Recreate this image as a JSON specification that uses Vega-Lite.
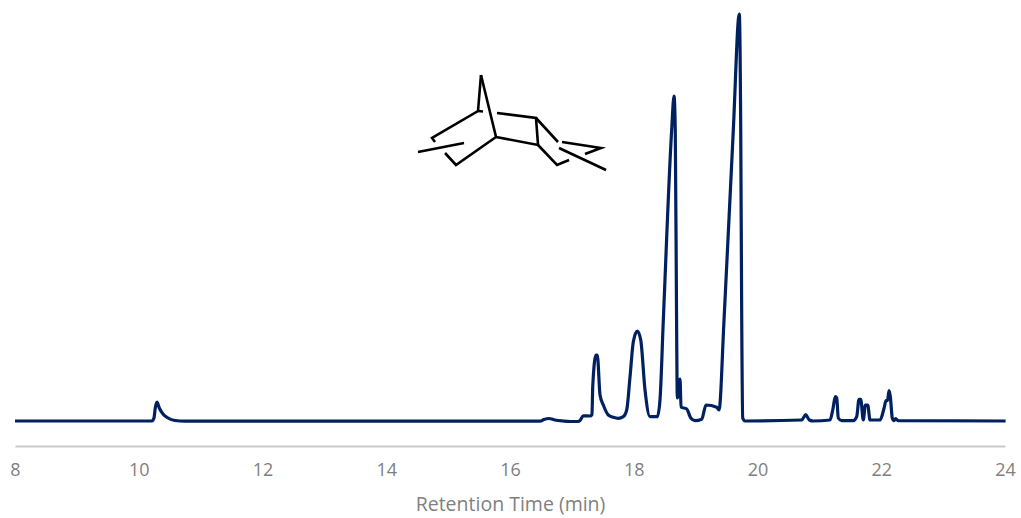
{"$schema":"https://vega.github.io/schema/vega-lite/v6.json","width":990,"height":446,"autosize":"none","padding":{"left":15,"right":16,"top":0,"bottom":72},"background":"white","config":{"view":{"stroke":null}},
"datasets":{"trace":[{"t":8,"v":0.5},{"t":10.214,"v":0.5},{"t":10.246,"v":3.5},{"t":10.267,"v":13.5},{"t":10.295,"v":19.5},{"t":10.332,"v":13.5},{"t":10.392,"v":7.5},{"t":10.473,"v":3.5},{"t":10.586,"v":1},{"t":10.747,"v":0.3},{"t":16.485,"v":0.3},{"t":16.549,"v":2},{"t":16.63,"v":3},{"t":16.727,"v":1.5},{"t":16.857,"v":0.5},{"t":16.97,"v":0},{"t":17.099,"v":0},{"t":17.131,"v":1},{"t":17.185,"v":5.7},{"t":17.293,"v":5.5},{"t":17.325,"v":7},{"t":17.337,"v":34.8},{"t":17.39,"v":66.5},{"t":17.411,"v":66.5},{"t":17.455,"v":26.5},{"t":17.508,"v":16.5},{"t":17.589,"v":6.5},{"t":17.67,"v":4.2},{"t":17.75,"v":3.2},{"t":17.831,"v":4.8},{"t":17.886,"v":11.5},{"t":17.94,"v":44.8},{"t":17.993,"v":79.8},{"t":18.058,"v":90.5},{"t":18.113,"v":81.5},{"t":18.182,"v":31.5},{"t":18.263,"v":4.8},{"t":18.381,"v":4.8},{"t":18.424,"v":21.5},{"t":18.478,"v":101.5},{"t":18.613,"v":291.5},{"t":18.651,"v":325.5},{"t":18.671,"v":291.5},{"t":18.692,"v":101.5},{"t":18.704,"v":23.5},{"t":18.748,"v":42.5},{"t":18.764,"v":14.5},{"t":18.856,"v":12.5},{"t":18.921,"v":3.5},{"t":18.99,"v":0.8},{"t":19.098,"v":2.2},{"t":19.168,"v":16.5},{"t":19.341,"v":14.2},{"t":19.378,"v":11.5},{"t":19.459,"v":101.5},{"t":19.609,"v":291.5},{"t":19.706,"v":407.5},{"t":19.729,"v":291.5},{"t":19.745,"v":101.5},{"t":19.761,"v":3.5},{"t":19.798,"v":0.5},{"t":20.714,"v":1.5},{"t":20.779,"v":6.8},{"t":20.838,"v":1.5},{"t":20.9,"v":0.5},{"t":21.172,"v":1.5},{"t":21.216,"v":11.5},{"t":21.258,"v":24.8},{"t":21.28,"v":23.5},{"t":21.306,"v":3.5},{"t":21.361,"v":0.8},{"t":21.549,"v":0.8},{"t":21.603,"v":4.8},{"t":21.641,"v":22.2},{"t":21.668,"v":22.2},{"t":21.71,"v":1.5},{"t":21.743,"v":16.5},{"t":21.781,"v":16.5},{"t":21.819,"v":1.5},{"t":21.98,"v":1.5},{"t":22.045,"v":13.2},{"t":22.077,"v":20.8},{"t":22.101,"v":20.8},{"t":22.126,"v":30.8},{"t":22.147,"v":24.8},{"t":22.179,"v":3.2},{"t":22.206,"v":0.8},{"t":22.233,"v":2.8},{"t":22.276,"v":0.8},{"t":24.01,"v":0.5}],
"molecule":[{"b":"a","i":0,"t":15.531,"v":346.5},{"b":"a","i":1,"t":15.483,"v":310.5},{"b":"a","i":2,"t":14.74,"v":283.5},{"b":"a","i":3,"t":14.788,"v":279.5},{"b":"i","i":0,"t":15.483,"v":310.5},{"b":"i","i":1,"t":15.564,"v":310},{"b":"c","i":0,"t":15.531,"v":346.5},{"b":"c","i":1,"t":15.774,"v":284.5},{"b":"c","i":2,"t":15.127,"v":256.5},{"b":"c","i":3,"t":14.95,"v":268.5},{"b":"d","i":0,"t":15.774,"v":284.5},{"b":"d","i":1,"t":16.453,"v":276.5},{"b":"d","i":2,"t":16.42,"v":303.5},{"b":"d","i":3,"t":15.79,"v":308.5},{"b":"e","i":0,"t":16.42,"v":303.5},{"b":"e","i":1,"t":16.776,"v":279.5},{"b":"f","i":0,"t":16.453,"v":276.5},{"b":"f","i":1,"t":16.76,"v":256.5},{"b":"f","i":2,"t":16.954,"v":261.5},{"b":"g","i":0,"t":14.513,"v":269.5},{"b":"g","i":1,"t":15.257,"v":278.5},{"b":"h","i":0,"t":16.841,"v":279.5},{"b":"h","i":1,"t":17.471,"v":273.5},{"b":"h","i":2,"t":17.212,"v":267.5},{"b":"j","i":0,"t":16.792,"v":273.5},{"b":"j","i":1,"t":17.552,"v":251.5}]},
"layer":[
{"data":{"name":"trace"},"mark":{"type":"line","stroke":"#002060","strokeWidth":3.2,"clip":false,"strokeJoin":"round","interpolate":"monotone"},"encoding":{"x":{"field":"t","type":"quantitative","scale":{"domain":[8,24],"nice":false,"zero":false},"axis":{"values":[8,10,12,14,16,18,20,22,24],"format":"d","grid":false,"ticks":false,"domainColor":"#c9c9c9","domainWidth":2,"labelColor":"#7f7f7f","labelFont":"Open Sans","labelFontSize":18,"labelPadding":15,"labelFlush":false,"title":"Retention Time (min)","titleColor":"#7f7f7f","titleFont":"Open Sans","titleFontSize":19.5,"titleFontWeight":"normal","titlePadding":16}},"y":{"field":"v","type":"quantitative","scale":{"domain":[-24.5,421.5],"nice":false,"zero":false},"axis":null}}},
{"data":{"name":"molecule"},"mark":{"type":"line","stroke":"#000000","strokeWidth":2.6,"clip":false,"strokeJoin":"miter"},"encoding":{"x":{"field":"t","type":"quantitative"},"y":{"field":"v","type":"quantitative"},"detail":{"field":"b"},"order":{"field":"i","type":"quantitative"}}}
]}
